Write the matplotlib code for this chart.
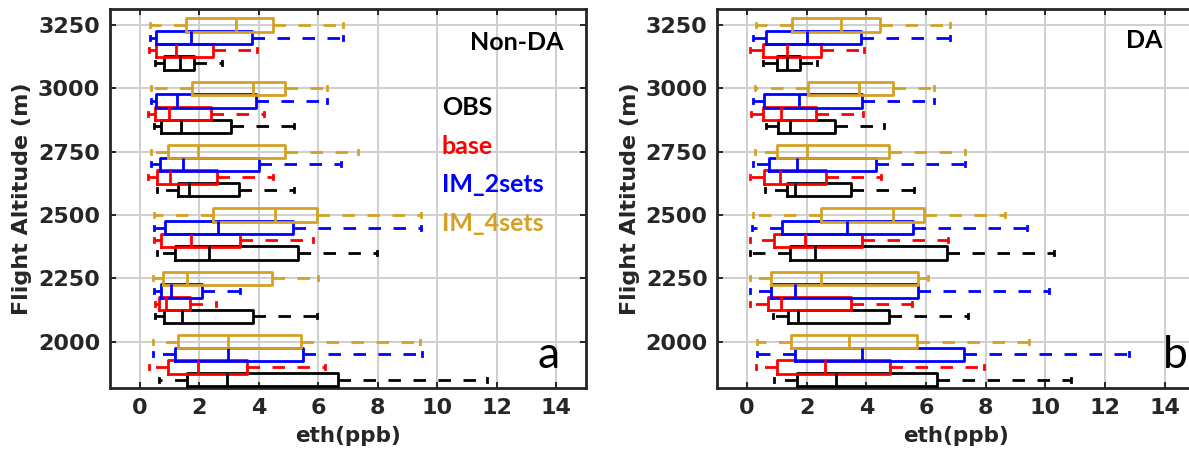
import numpy as np
import matplotlib.pyplot as plt

# altitude bins (m) and the four data sets plotted in each bin
altitudes = [2000, 2250, 2500, 2750, 3000, 3250]
series = ['OBS', 'base', 'IM_2sets', 'IM_4sets']
colors = ['black', '#ff0000', '#0000ff', '#d4a126']
offsets = [-150, -100, -50, 0]

# eth (ppb) per bin: [lower whisker, q1, median, q3, upper whisker]
nonda_obs = [[0.65, 1.60, 2.95, 6.68, 11.66], [0.52, 0.81, 1.42, 3.80, 5.96],
             [0.58, 1.20, 2.32, 5.31, 7.98], [0.58, 1.28, 1.66, 3.33, 5.20],
             [0.47, 0.71, 1.38, 3.08, 5.19], [0.52, 0.80, 1.36, 1.82, 2.77]]
nonda_base = [[0.30, 0.95, 1.95, 3.62, 6.23], [0.50, 0.65, 0.87, 1.68, 2.55],
              [0.48, 0.70, 1.73, 3.38, 5.82], [0.29, 0.59, 1.03, 2.60, 4.48],
              [0.29, 0.52, 0.97, 2.38, 4.19], [0.30, 0.54, 1.22, 2.45, 3.93]]
nonda_im2 = [[0.45, 1.19, 2.98, 5.50, 9.48], [0.48, 0.70, 1.04, 2.08, 3.36],
             [0.48, 0.85, 2.64, 5.16, 9.46], [0.38, 0.68, 1.47, 4.02, 6.77],
             [0.38, 0.56, 1.25, 3.91, 6.30], [0.35, 0.56, 1.71, 3.78, 6.83]]
nonda_im4 = [[0.45, 1.27, 2.98, 5.41, 9.43], [0.46, 0.78, 1.60, 4.43, 5.98],
             [0.48, 2.46, 4.55, 5.97, 9.45], [0.38, 0.96, 1.97, 4.90, 7.33],
             [0.38, 1.77, 3.80, 4.90, 6.30], [0.35, 1.56, 3.24, 4.47, 6.83]]

da_obs = [[0.90, 1.68, 2.99, 6.35, 10.86], [0.87, 1.37, 1.71, 4.74, 7.39],
          [0.08, 1.43, 2.27, 6.69, 10.28], [0.59, 1.32, 1.62, 3.47, 5.60],
          [0.62, 1.03, 1.42, 2.93, 4.59], [0.54, 0.99, 1.34, 1.76, 2.35]]
da_base = [[0.28, 1.01, 2.61, 4.79, 7.95], [0.09, 0.71, 1.12, 3.47, 5.54],
           [0.09, 0.90, 1.94, 3.84, 6.74], [0.11, 0.56, 1.10, 2.63, 4.48],
           [0.13, 0.54, 1.15, 2.32, 3.89], [0.11, 0.54, 1.34, 2.49, 3.92]]
da_im2 = [[0.34, 1.62, 3.86, 7.28, 12.79], [0.11, 0.81, 1.62, 5.74, 10.13],
          [0.15, 1.18, 3.36, 5.57, 9.38], [0.19, 0.73, 1.68, 4.31, 7.30],
          [0.19, 0.56, 1.74, 3.84, 6.25], [0.19, 0.62, 1.99, 3.83, 6.80]]
da_im4 = [[0.34, 1.48, 3.42, 5.71, 9.46], [0.11, 0.81, 2.46, 5.74, 6.05],
          [0.19, 2.46, 4.90, 5.93, 8.66], [0.25, 1.01, 2.02, 4.76, 7.30],
          [0.25, 2.04, 3.75, 4.90, 6.25], [0.28, 1.51, 3.14, 4.45, 6.80]]

ink = '#262626'


def draw_panel(ax, sets):
    for rows, color, off in zip(sets, colors, offsets):
        stats = [dict(whislo=r[0], q1=r[1], med=r[2], q3=r[3], whishi=r[4])
                 for r in rows]
        pos = [a + off for a in altitudes]
        ax.bxp(stats, positions=pos, widths=52, orientation='horizontal',
               showfliers=False, manage_ticks=False, capwidths=16,
               boxprops=dict(color=color, lw=2.0),
               medianprops=dict(color=color, lw=2.0),
               whiskerprops=dict(color=color, lw=2.0, ls=(0, (4.5, 4.5))),
               capprops=dict(color=color, lw=2.0), zorder=3)
    ax.set_xlim(-1, 15)
    ax.set_ylim(1817, 3312)
    ax.set_xticks(np.arange(0, 15, 2))
    ax.set_yticks(altitudes)
    ax.grid(True, color='#cfcfcf', lw=1.4, zorder=0)
    ax.set_axisbelow(True)
    ax.tick_params(direction='in', top=True, right=True, length=4, width=1.4,
                   colors=ink, labelsize=16, pad=7)
    for lab in ax.get_xticklabels() + ax.get_yticklabels():
        lab.set_fontweight('bold')
    for sp in ax.spines.values():
        sp.set_color(ink)
        sp.set_linewidth(2.0)
    ax.set_xlabel('eth(ppb)', fontsize=15.5, fontweight='bold', color=ink,
                  labelpad=6)
    ax.set_ylabel('Flight Altitude (m)', fontsize=16, fontweight='bold',
                  color=ink, labelpad=4)


fig = plt.figure(figsize=(11.89, 4.53), dpi=100)
ax1 = fig.add_axes([0.0925, 0.1435, 0.4003, 0.836])
ax2 = fig.add_axes([0.6033, 0.1435, 0.4014, 0.836])

draw_panel(ax1, [nonda_obs, nonda_base, nonda_im2, nonda_im4])
draw_panel(ax2, [da_obs, da_base, da_im2, da_im4])

ax1.text(14.23, 3153, 'Non-DA', family='Lato', fontweight='bold',
         fontsize=18, ha='right', va='baseline')
ax2.text(13.93, 3160, 'DA', family='Lato', fontweight='bold',
         fontsize=18, ha='right', va='baseline')

for i, (name, color) in enumerate(zip(series, colors)):
    ax1.text(10.15, 2895 - 153 * i, name, family='Lato', fontweight='bold',
             fontsize=18, color=color, ha='left', va='baseline')

ax1.text(13.38, 1894, 'a', family='Lato', fontsize=32, ha='left',
         va='baseline')
ax2.text(13.94, 1894, 'b', family='Lato', fontsize=32, ha='left',
         va='baseline')

fig.savefig('out.png', dpi=100)
